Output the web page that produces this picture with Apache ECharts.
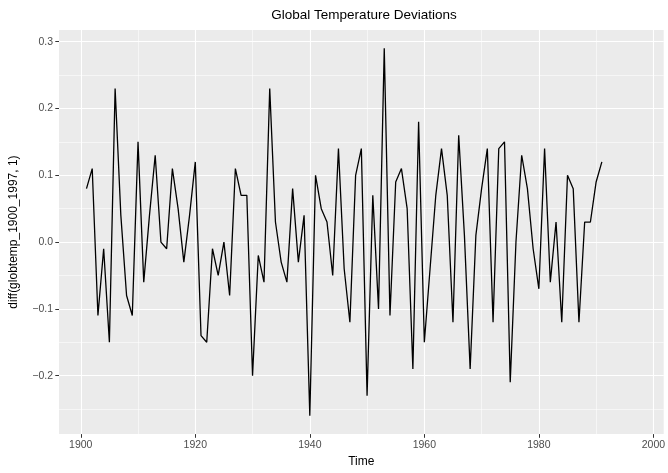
<!DOCTYPE html>
<html>
<head>
<meta charset="utf-8">
<title>Global Temperature Deviations</title>
<script src="https://cdn.jsdelivr.net/npm/echarts@6/dist/echarts.min.js"></script>
<style>
  html, body { margin: 0; padding: 0; background: #ffffff; }
  #chart { width: 668px; height: 473px; }
</style>
</head>
<body>
<div id="chart"></div>
<script>
// Year-to-year change of the global temperature series, 1901 onward
const years = [];
for (let y = 1901; y <= 1991; y++) years.push(y);

const diffValues = [
  0.08, 0.11, -0.11, -0.01, -0.15, 0.23, 0.04, -0.08, -0.11, 0.15,
  -0.06, 0.04, 0.13, 0.00, -0.01, 0.11, 0.05, -0.03, 0.04, 0.12,
  -0.14, -0.15, -0.01, -0.05, 0.00, -0.08, 0.11, 0.07, 0.07, -0.20,
  -0.02, -0.06, 0.23, 0.03, -0.03, -0.06, 0.08, -0.03, 0.04, -0.26,
  0.10, 0.05, 0.03, -0.05, 0.14, -0.04, -0.12, 0.10, 0.14, -0.23,
  0.07, -0.10, 0.29, -0.11, 0.09, 0.11, 0.05, -0.19, 0.18, -0.15,
  -0.04, 0.07, 0.14, 0.07, -0.12, 0.16, 0.01, -0.19, 0.01, 0.08,
  0.14, -0.12, 0.14, 0.15, -0.21, 0.00, 0.13, 0.08, -0.01, -0.07,
  0.14, -0.06, 0.03, -0.12, 0.10, 0.08, -0.12, 0.03, 0.03, 0.09,
  0.12
];

// Axis breaks (major labelled, minor unlabelled)
const xMajorTicks = [1900, 1920, 1940, 1960, 1980, 2000];
const xMinorTicks = [1910, 1930, 1950, 1970, 1990];
const yMajorTicks = [-0.2, -0.1, 0.0, 0.1, 0.2, 0.3];
const yMinorTicks = [-0.25, -0.15, -0.05, 0.05, 0.15, 0.25];

// Time index spans 1901-1997; ranges padded by 5% on each side
const xStart = 1901, xEnd = 1997;
const xPad = (xEnd - xStart) * 0.05;
const yLo = Math.min(...diffValues), yHi = Math.max(...diffValues);
const yPad = (yHi - yLo) * 0.05;

const FONT = '"Liberation Sans", Arial, Helvetica, sans-serif';
const fmtY = v => {
  const s = (Math.abs(v) < 1e-9 ? 0 : v).toFixed(1);
  return s.replace('-', '\u2212');
};

const chart = echarts.init(document.getElementById('chart'), null, { renderer: 'canvas' });

const baseX = {
  type: 'value', min: xStart - xPad, max: xEnd + xPad,
  axisLine: { show: false, onZero: false }
};
const baseY = {
  type: 'value', min: yLo - yPad, max: yHi + yPad,
  axisLine: { show: false, onZero: false }
};

// Gridlines drawn as mark lines on the axes' own scales
const gridLine = (axisKey, values, width) => ({
  type: 'line', data: [], silent: true, z: 2,
  markLine: {
    silent: true, symbol: 'none', animation: false,
    label: { show: false },
    lineStyle: { color: '#ffffff', width: width, type: 'solid' },
    data: values.map(v => ({ [axisKey]: v }))
  }
});

chart.setOption({
  animation: false,
  backgroundColor: '#ffffff',
  title: {
    text: 'Global Temperature Deviations',
    left: 359, top: 3, textAlign: 'center',
    textStyle: { fontFamily: FONT, fontSize: 13.5, fontWeight: 'normal', color: '#000000' }
  },
  grid: {
    left: 55, right: 4, top: 30, bottom: 34,
    show: true, backgroundColor: '#EBEBEB', borderWidth: 0
  },
  xAxis: Object.assign({}, baseX, {
    name: 'Time', nameLocation: 'middle', nameGap: 21,
    nameTextStyle: { fontFamily: FONT, fontSize: 12, color: '#000000' },
    axisTick: { show: true, length: 3.7, lineStyle: { color: '#333333', width: 1 }, customValues: xMajorTicks },
    axisLabel: { customValues: xMajorTicks, margin: 6, fontFamily: FONT, fontSize: 10.5, color: '#4D4D4D', formatter: v => String(Math.round(v)) },
    splitLine: { show: false }
  }),
  yAxis: Object.assign({}, baseY, {
    name: 'diff(globtemp_1900_1997, 1)', nameLocation: 'middle', nameGap: 39,
    nameTextStyle: { fontFamily: FONT, fontSize: 12, color: '#000000' },
    axisTick: { show: true, length: 3.7, lineStyle: { color: '#333333', width: 1 }, customValues: yMajorTicks },
    axisLabel: { customValues: yMajorTicks, margin: 6, fontFamily: FONT, fontSize: 10.5, color: '#4D4D4D', formatter: fmtY },
    splitLine: { show: false }
  }),
  series: [
    gridLine('xAxis', xMinorTicks, 0.55),
    gridLine('yAxis', yMinorTicks, 0.55),
    gridLine('xAxis', xMajorTicks, 1.1),
    gridLine('yAxis', yMajorTicks, 1.1),
    {
      type: 'line',
      data: years.map((y, i) => [y, diffValues[i]]),
      showSymbol: false,
      lineStyle: { color: '#000000', width: 1.3 },
      z: 5
    }
  ]
});
</script>
</body>
</html>
